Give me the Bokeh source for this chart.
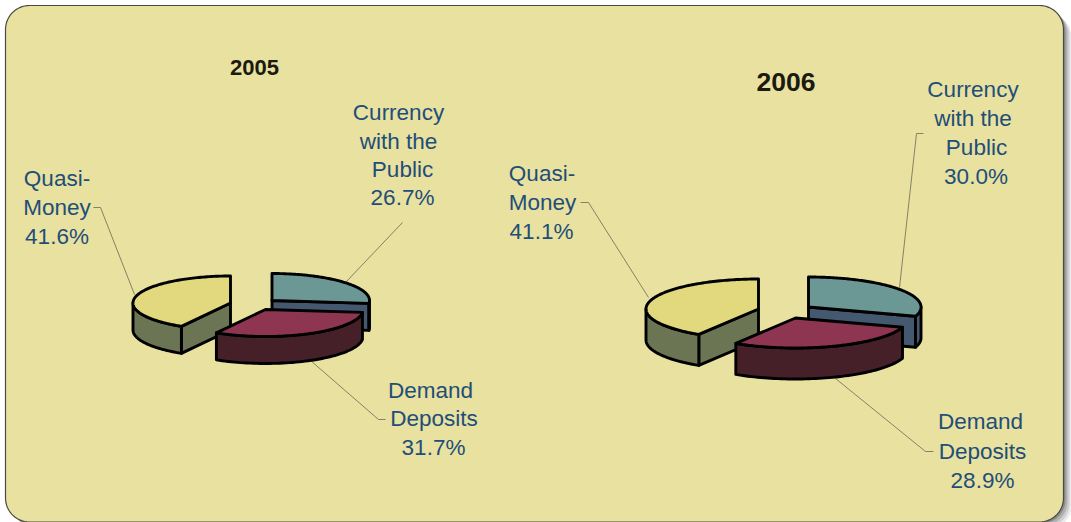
import numpy as np
from bokeh.plotting import figure
from bokeh.models import Range1d
from bokeh.core.properties import value
from bokeh.embed import file_html
from bokeh.resources import INLINE

W, H = 1071, 522
categories = ["Currency with the Public", "Demand Deposits", "Quasi-Money"]
shares_2005 = [26.7, 31.7, 41.6]
shares_2006 = [30.0, 28.9, 41.1]
top_colors = ["#6B9794", "#8D3551", "#E2D97F"]
side_colors = ["#44586F", "#452028", "#6B7553"]

# pie geometry: exploded slice centres, radii and depth
pie_2005 = dict(centers=[(271.5, 300), (265, 309), (230, 302.5)], rx=97.5, ry=27, depth=27)
pie_2006 = dict(centers=[(808, 306.5), (795, 317.5), (758, 308.5)], rx=112.5, ry=30, depth=31)

labels_2005 = [("Currency", 398, 111.5), ("with the", 398, 140.5), ("Public", 402, 168.5), ("26.7%", 402, 196.5),
               ("Demand", 430, 389.5), ("Deposits", 433.5, 417.5), ("31.7%", 433, 446.5),
               ("Quasi-", 56.5, 177.5), ("Money", 56.5, 206.5), ("41.6%", 56.5, 235.5)]
labels_2006 = [("Currency", 972.5, 88.5), ("with the", 972.5, 117.5), ("Public", 976, 146.5), ("30.0%", 975.5, 175.5),
               ("Demand", 980, 420.5), ("Deposits", 982, 450.5), ("28.9%", 982, 479.5),
               ("Quasi-", 541.5, 172.5), ("Money", 542, 201.5), ("41.1%", 541, 230.5)]
leaders = [
    ([402, 345], [222, 282]),
    ([385, 378, 310], [419, 419, 360]),
    ([93, 100, 134], [207, 207, 294]),
    ([923, 916, 899], [133, 133, 287]),
    ([933, 925, 835], [451, 451, 378]),
    ([580, 588, 648], [202, 202, 297]),
]

p = figure(width=W, height=H, output_backend="svg", toolbar_location=None,
           x_range=Range1d(0, W), y_range=Range1d(H, 0), min_border=0,
           background_fill_color="white", border_fill_color="white", outline_line_color=None,
           styles={"position": "absolute", "left": "0px", "top": "0px"})
p.axis.visible = False
p.grid.visible = False


def rounded(x0, y0, x1, y1, r):
    xs, ys = [], []
    for cx, cy, a0 in [(x1 - r, y0 + r, -90), (x1 - r, y1 - r, 0), (x0 + r, y1 - r, 90), (x0 + r, y0 + r, 180)]:
        t = np.radians(np.linspace(a0, a0 + 90, 16))
        xs += list(cx + r * np.cos(t))
        ys += list(cy + r * np.sin(t))
    return xs, ys


# panel shadow and panel
for off, a in [(8, 0.10), (6, 0.14), (4, 0.2), (2, 0.3)]:
    xs, ys = rounded(5 + off, 5 + off, 1063 + off, 521 + off, 24)
    p.patch(xs, ys, fill_color="#333333", fill_alpha=a, line_color=None)
xs, ys = rounded(5, 5, 1063, 521.5, 24)
p.patch(xs, ys, fill_color="#E8E19F", line_color="#4A4A44", line_width=1.2)

for lx, ly in leaders:
    p.line(lx, ly, line_color="#77775F", line_width=0.9)


def draw_pie(shares, g):
    rx, ry, d = g["rx"], g["ry"], g["depth"]
    edges = np.concatenate([[0], np.cumsum(shares) * 3.6])
    style = dict(line_color="black", line_width=2.9, line_join="round")
    # back slice first; the exploded middle slice sits in front of its neighbours
    for i in [0, 2, 1]:
        cx, cy = g["centers"][i]
        a0, a1 = edges[i], edges[i + 1]
        def pt(a):
            r = np.radians(a)
            return cx + rx * np.sin(r), cy - ry * np.cos(r)
        # radial cut faces, visible when they look toward the viewer
        for a, vis in [(a0, a0 > 180), (a1, a1 < 180)]:
            if vis and a < 360:
                ex, ey = pt(a)
                p.patch([cx, ex, ex, cx], [cy, ey, ey + d, cy + d], fill_color=side_colors[i], **style)
        # outer rim: the front half of the arc
        s0, s1 = max(a0, 90), min(a1, 270)
        if s1 > s0:
            t = np.linspace(s0, s1, 60)
            ax, ay = pt(t)
            p.patch(np.r_[ax, ax[::-1]], np.r_[ay, ay[::-1] + d], fill_color=side_colors[i], **style)
        # top
        t = np.linspace(a0, a1, 120)
        ax, ay = pt(t)
        p.patch(np.r_[cx, ax], np.r_[cy, ay], fill_color=top_colors[i], **style)


draw_pie(shares_2005, pie_2005)
draw_pie(shares_2006, pie_2006)


def draw_labels(rows):
    p.text([r[1] for r in rows], [r[2] for r in rows], text=[r[0] for r in rows],
           text_font=value("Liberation Sans"), text_font_size="22.5px", text_color="#1F4E79",
           text_align="center", text_baseline="middle")


draw_labels(labels_2005)
draw_labels(labels_2006)

p.text([254], [67], text=["2005"], text_font=value("Liberation Sans"), text_font_style="bold",
       text_font_size="22px", text_color="#1A1A10", text_align="center", text_baseline="middle")
p.text([785.5], [81.5], text=["2006"], text_font=value("Liberation Sans"), text_font_style="bold",
       text_font_size="26.5px", text_color="#1A1A10", text_align="center", text_baseline="middle")

open("out.html", "w").write(file_html(p, INLINE))
